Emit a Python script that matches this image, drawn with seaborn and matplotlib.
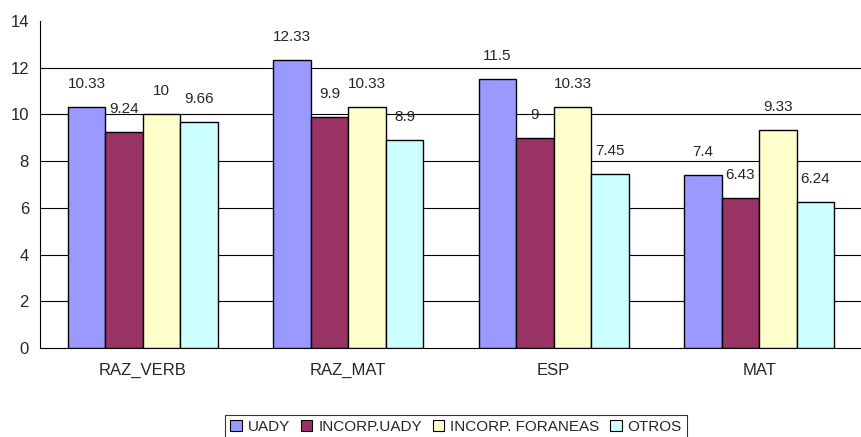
import matplotlib
matplotlib.use("Agg")
import matplotlib.pyplot as plt
import seaborn as sns
import pandas as pd
from matplotlib.patches import Patch

categories = ["RAZ_VERB", "RAZ_MAT", "ESP", "MAT"]
series = ["UADY", "INCORP.UADY", "INCORP. FORANEAS", "OTROS"]
uady = [10.33, 12.33, 11.5, 7.4]
incorp_uady = [9.24, 9.9, 9, 6.43]
incorp_foraneas = [10, 10.33, 10.33, 9.33]
otros = [9.66, 8.9, 7.45, 6.24]
colors = ["#9999FF", "#993366", "#FFFFCC", "#CCFFFF"]
yticks = [0, 2, 4, 6, 8, 10, 12, 14]

rows = []
for s, vals in zip(series, [uady, incorp_uady, incorp_foraneas, otros]):
    for c, v in zip(categories, vals):
        rows.append({"cat": c, "serie": s, "val": v})
df = pd.DataFrame(rows)

sns.set_style("white")
plt.rcParams["font.family"] = ["Liberation Sans", "DejaVu Sans"]

fig = plt.figure(figsize=(8.62, 4.37), dpi=100)
ax = fig.add_axes([40/862, 1-348/437, 1-40/862, (348-21)/437])

sns.barplot(data=df, x="cat", y="val", hue="serie", order=categories,
            hue_order=series, palette=colors, width=0.73, gap=0,
            edgecolor="black", linewidth=1, saturation=1, legend=False, ax=ax,
            zorder=3)

for cont in ax.containers:
    ax.bar_label(cont, labels=[f"{v:g}" for v in cont.datavalues],
                 padding=11.5, fontsize=11)

ax.set_xlim(-0.5, 3.5)
ax.set_ylim(0, 14)
ax.set_yticks(yticks)
ax.set_yticklabels([str(t) for t in yticks], fontsize=12)
for t in yticks[1:-1]:
    ax.axhline(t, color="black", lw=0.8, zorder=1)
ax.set_xticks(range(len(categories)))
ax.set_xticklabels(categories, fontsize=12)
ax.tick_params(axis="x", which="major", length=0, pad=11)
ax.set_xticks([0.5, 1.5, 2.5], minor=True)
ax.tick_params(axis="x", which="minor", length=5, width=0.8, color="black", direction="out")
ax.tick_params(axis="y", length=5, width=0.8, color="black", direction="out", pad=3)
ax.set_xlabel("")
ax.set_ylabel("")
for side in ["top", "right"]:
    ax.spines[side].set_visible(False)
for side in ["left", "bottom"]:
    ax.spines[side].set_color("black")
    ax.spines[side].set_linewidth(0.8)

handles = [Patch(facecolor=c, edgecolor="black", linewidth=0.8, label=s) for c, s in zip(colors, series)]
leg = fig.legend(handles=handles, loc="upper center", bbox_to_anchor=(456/862, 1-407/437),
                 ncol=4, frameon=True, fancybox=False, fontsize=11,
                 handlelength=0.75, handleheight=0.75, handletextpad=0.4,
                 columnspacing=0.7, borderpad=0.35)
leg.get_frame().set_edgecolor("black")
leg.get_frame().set_linewidth(0.8)

fig.savefig("out.png", dpi=100)
